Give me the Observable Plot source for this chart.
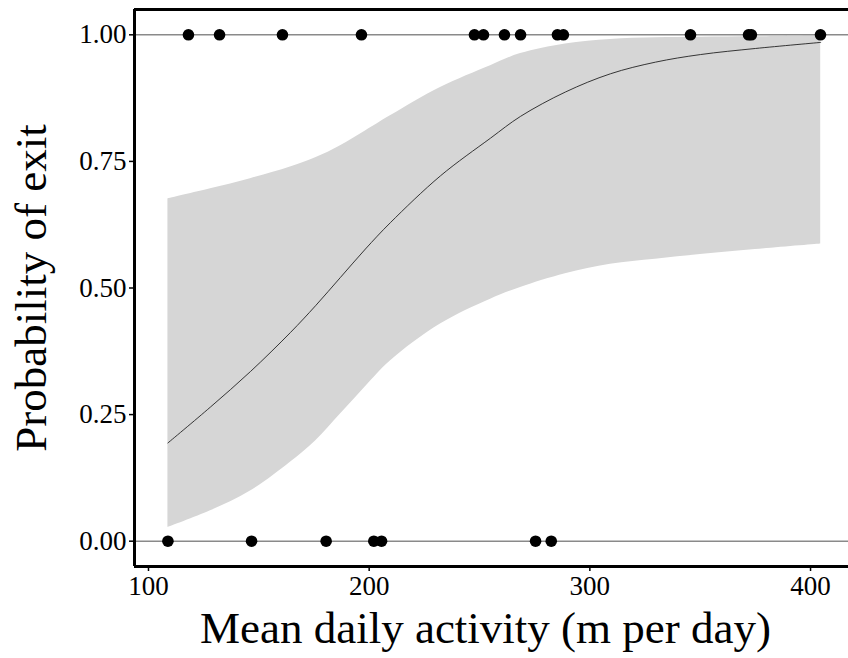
<!DOCTYPE html>
<html><head><meta charset="utf-8">
<script src="https://cdn.jsdelivr.net/npm/d3@7"></script>
<script src="https://cdn.jsdelivr.net/npm/@observablehq/plot@0.6"></script>
<style>html,body{margin:0;padding:0;background:#fff;overflow:hidden}</style>
</head><body><div id="chart"></div>
<script>
// Observed individuals: exited (probability 1) and stayed (probability 0)
const exitX = [118.1, 132.2, 160.7, 196.5, 247.7, 251.8, 261.3, 268.6, 285.3, 288.0, 345.6, 371.9, 373.2, 404.5];
const stayX = [108.8, 146.7, 180.5, 202.1, 205.6, 275.4, 282.5];

// Fitted curve and confidence band
const fitX  = [108.8, 128.1, 146.2, 164.3, 175.7, 187.0, 198.3, 209.6, 232.3, 255.0, 268.6, 288.9, 309.3, 329.7, 350.1, 375.0, 404.6];
const fitY  = [0.194, 0.265, 0.335, 0.412, 0.465, 0.521, 0.577, 0.629, 0.7215, 0.796, 0.839, 0.887, 0.923, 0.946, 0.961, 0.973, 0.985];
const lowY  = [0.027, 0.060, 0.099, 0.156, 0.198, 0.251, 0.305, 0.356, 0.429, 0.478, 0.501, 0.528, 0.547, 0.557, 0.566, 0.576, 0.587];
const highY = [0.676, 0.696, 0.716, 0.739, 0.757, 0.781, 0.810, 0.840, 0.896, 0.939, 0.963, 0.982, 0.991, 0.994, 0.995, 0.996, 0.997];

const xDomain = [93.66, 417.2];
const yDomain = [-0.05, 1.05];
const xTicks = [100, 200, 300, 400];
const yTicks = [0, 0.25, 0.5, 0.75, 1];
const xLabel = "Mean daily activity (m per day)";
const yLabel = "Probability of exit";

const band = fitX.map((x, i) => ({x, fit: fitY[i], lo: lowY[i], hi: highY[i]}));
const pts = [...exitX.map(x => ({x, y: 1})), ...stayX.map(x => ({x, y: 0}))];

const chart = Plot.plot({
  width: 848, height: 658,
  marginLeft: 134, marginRight: 0, marginTop: 9, marginBottom: 92,
  x: {domain: xDomain},
  y: {domain: yDomain},
  style: {fontFamily: "'Liberation Serif', 'Times New Roman', serif", color: "#000", background: "#fff"},
  marks: [
    Plot.areaY(band, {x: "x", y1: "lo", y2: "hi", fill: "#d6d6d6", curve: "catmull-rom"}),
    Plot.ruleY([0, 1], {stroke: "#8a8a8a", strokeWidth: 1.5}),
    Plot.line(band, {x: "x", y: "fit", stroke: "#222", strokeWidth: 0.9, curve: "catmull-rom"}),
    Plot.dot(pts, {x: "x", y: "y", r: 5.8, fill: "#000"}),
    Plot.ruleX([xDomain[0]], {stroke: "#000", strokeWidth: 3}),
    Plot.ruleY(yDomain, {stroke: "#000", strokeWidth: 3}),
    Plot.axisX({ticks: xTicks, tickSize: 5, tickPadding: 4, fontSize: 27, label: null, strokeWidth: 1.5}),
    Plot.axisY({ticks: yTicks, tickFormat: d3.format(".2f"), tickSize: 5, tickPadding: 3, fontSize: 27, label: null, strokeWidth: 1.5}),
    Plot.text([xLabel], {text: d => d, frameAnchor: "bottom", lineAnchor: "bottom", dy: 76, dx: -6, fontSize: 45}),
    Plot.text([yLabel], {text: d => d, frameAnchor: "left", textAnchor: "middle", rotate: -90, lineAnchor: "bottom", dx: -89, fontSize: 45})
  ]
});
document.getElementById("chart").appendChild(chart);
</script>
</body></html>
